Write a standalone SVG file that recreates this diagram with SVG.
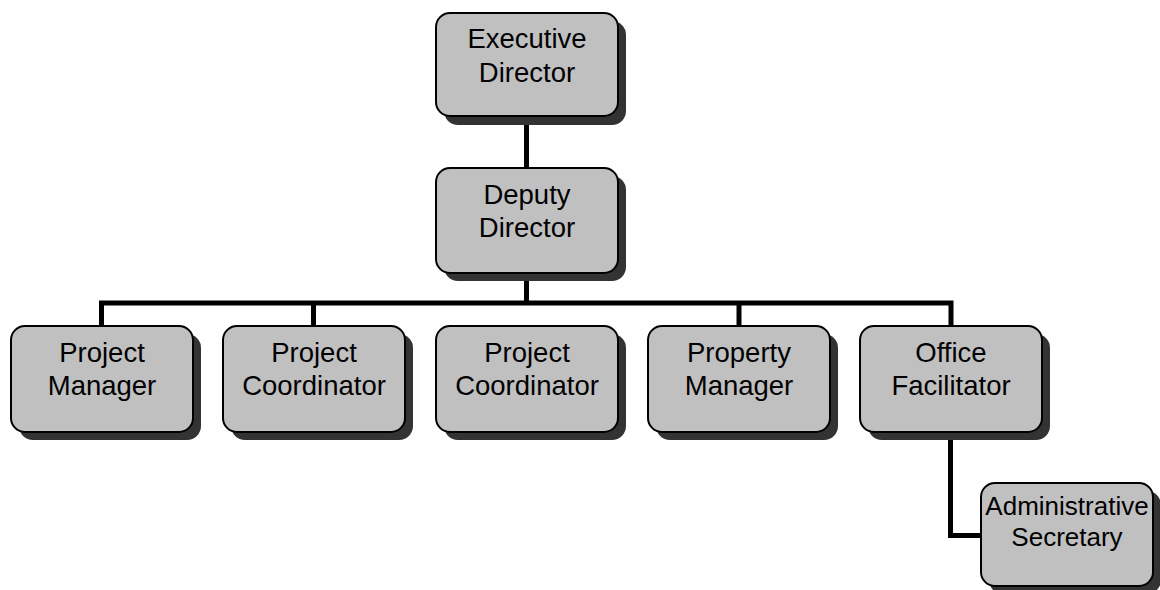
<svg xmlns="http://www.w3.org/2000/svg" width="1160" height="590" viewBox="0 0 1160 590">
<defs>
<style>
.shadow{fill:#333333;}
.box{fill:#c0c0c0;stroke:#000;stroke-width:2;}
.lbl{font-family:"Liberation Sans",Arial,sans-serif;font-size:27.5px;fill:#000;text-anchor:middle;}
.lbl2{font-family:"Liberation Sans",Arial,sans-serif;font-size:26px;fill:#000;text-anchor:middle;}
.conn{fill:none;stroke:#000;stroke-width:5;stroke-linejoin:miter;stroke-linecap:butt;}
</style>
</defs>
<rect width="1160" height="590" fill="#fff"/>
<g id="connectors">
<path class="conn" d="M526.5,116 V168"/>
<path class="conn" d="M526.5,272 V303"/>
<path class="conn" d="M101.5,326 V303 H951 V326"/>
<path class="conn" d="M313.5,303 V326"/>
<path class="conn" d="M739,303 V326"/>
<path class="conn" d="M950.5,431 V535.5 H982"/>
</g>
<g id="executive-director">
<rect class="shadow" x="444" y="21" width="182" height="104" rx="14"/>
<rect class="box" x="436" y="13" width="182" height="103" rx="14"/>
<text class="lbl" x="527" y="48">Executive</text>
<text class="lbl" x="527" y="82">Director</text>
</g>
<g id="deputy-director">
<rect class="shadow" x="444" y="176" width="182" height="105" rx="14"/>
<rect class="box" x="436" y="168" width="182" height="105" rx="14"/>
<text class="lbl" x="527" y="204">Deputy</text>
<text class="lbl" x="527" y="237">Director</text>
</g>
<g id="project-manager">
<rect class="shadow" x="19" y="334" width="182" height="106" rx="14"/>
<rect class="box" x="11" y="326" width="182" height="106" rx="14"/>
<text class="lbl" x="102" y="362">Project</text>
<text class="lbl" x="102" y="395">Manager</text>
</g>
<g id="project-coordinator-1">
<rect class="shadow" x="231" y="334" width="182" height="106" rx="14"/>
<rect class="box" x="223" y="326" width="182" height="106" rx="14"/>
<text class="lbl" x="314" y="362">Project</text>
<text class="lbl" x="314" y="395">Coordinator</text>
</g>
<g id="project-coordinator-2">
<rect class="shadow" x="444" y="334" width="182" height="106" rx="14"/>
<rect class="box" x="436" y="326" width="182" height="106" rx="14"/>
<text class="lbl" x="527" y="362">Project</text>
<text class="lbl" x="527" y="395">Coordinator</text>
</g>
<g id="property-manager">
<rect class="shadow" x="656" y="334" width="182" height="106" rx="14"/>
<rect class="box" x="648" y="326" width="182" height="106" rx="14"/>
<text class="lbl" x="739" y="362">Property</text>
<text class="lbl" x="739" y="395">Manager</text>
</g>
<g id="office-facilitator">
<rect class="shadow" x="868" y="334" width="182" height="106" rx="14"/>
<rect class="box" x="860" y="326" width="182" height="106" rx="14"/>
<text class="lbl" x="951" y="362">Office</text>
<text class="lbl" x="951" y="395">Facilitator</text>
</g>
<g id="administrative-secretary">
<rect class="shadow" x="989" y="491" width="172" height="103" rx="14"/>
<rect class="box" x="981" y="483" width="172" height="103" rx="14"/>
<text class="lbl2" x="1067" y="515">Administrative</text>
<text class="lbl2" x="1067" y="546">Secretary</text>
</g>
</svg>
